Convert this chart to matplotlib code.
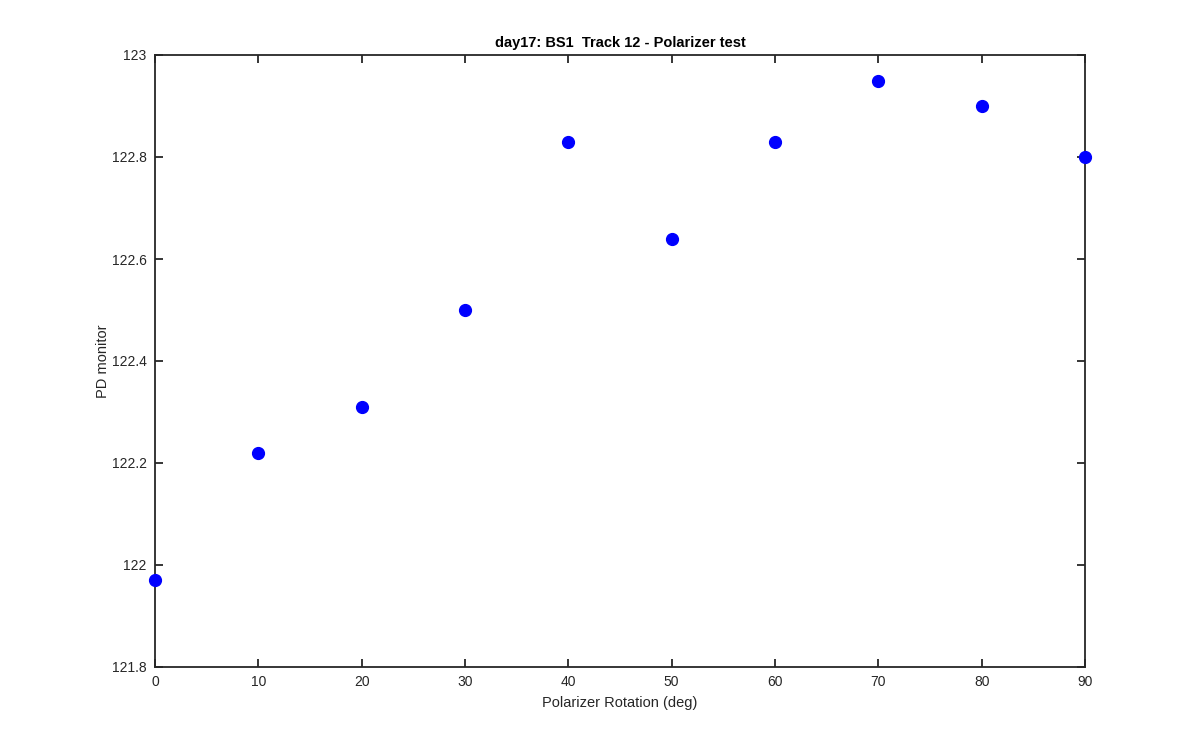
import matplotlib
matplotlib.use("Agg")
import matplotlib.pyplot as plt

plt.rcParams['font.family'] = ['Liberation Sans', 'DejaVu Sans']

rotation_deg = [0, 10, 20, 30, 40, 50, 60, 70, 80, 90]
pd_monitor = [121.97, 122.22, 122.31, 122.50, 122.83, 122.64, 122.83, 122.95, 122.90, 122.80]
x_ticks = [0, 10, 20, 30, 40, 50, 60, 70, 80, 90]
y_ticks = [121.8, 122, 122.2, 122.4, 122.6, 122.8, 123]
y_tick_labels = ["121.8", "122", "122.2", "122.4", "122.6", "122.8", "123"]

fig = plt.figure(figsize=(12, 7.5), dpi=100)
ax = fig.add_axes([155/1200, 83/750, 930/1200, 612/750])
ax.plot(rotation_deg, pd_monitor, 'o', color='#0000ff', markersize=8.5, clip_on=False, zorder=5)
ax.set_xlim(0, 90)
ax.set_ylim(121.8, 123)
ax.set_xticks(x_ticks)
ax.set_yticks(y_ticks)
ax.set_yticklabels(y_tick_labels)
ax.tick_params(direction='in', top=True, right=True, length=6, width=1.3,
               colors='#262626', labelsize=10, pad=6)
for s in ax.spines.values():
    s.set_linewidth(1.3)
    s.set_color('#262626')
ax.set_xlabel('Polarizer Rotation (deg)', fontsize=10.5, color='#262626', labelpad=5)
ax.set_ylabel('PD monitor', fontsize=10.5, color='#262626', labelpad=1)
ax.set_title('day17: BS1  Track 12 - Polarizer test', fontsize=10.5, fontweight='bold', color='black', pad=6)
fig.savefig('out.png', dpi=100, facecolor='white')
